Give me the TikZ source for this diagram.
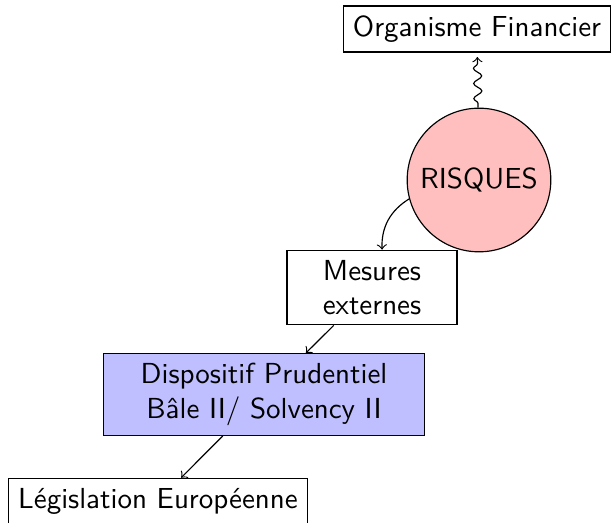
\documentclass[tikz,border=0pt]{standalone}
\usepackage{fontspec}
\usetikzlibrary{decorations.pathmorphing}
\begin{document}
\begin{tikzpicture}[x=0.345pt, y=-0.345pt,
    font=\sffamily,
    box/.style={draw, rectangle, align=center},
    link/.style={->},
    wavy/.style={->, decorate,
      decoration={snake, amplitude=1.4pt, segment length=5.2pt,
                  pre length=1.5pt, post length=1.5pt}}]
  \useasboundingbox (0,0) rectangle (611,523);
  \node[box] (org) at (477,29) {Organisme Financier};
  \node[draw, circle, fill=red!25] (risk) at (479,180) {RISQUES};
  \node[box, text width=52pt] (mes) at (372,287.5) {Mesures\\externes};
  \node[box, fill=blue!25, text width=104pt] (disp) at (264,394.5)
    {Dispositif Prudentiel\\Bâle II/ Solvency II};
  \node[box] (leg) at (158,501) {Législation Européenne};
  \draw[wavy, shorten >=1.5pt] (risk) -- (org);
  \draw[link] (risk) to[bend right] (mes);
  \draw[link] (mes) -- (disp);
  \draw[link] (disp) -- (leg);
\end{tikzpicture}
\end{document}
